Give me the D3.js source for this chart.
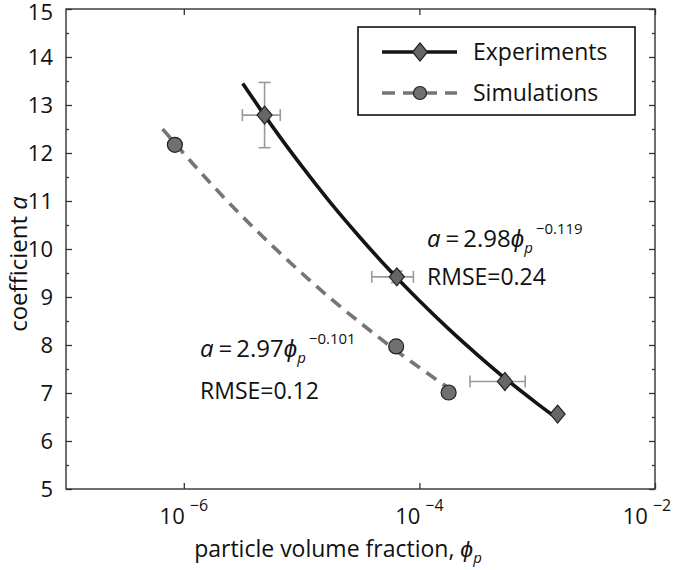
<!DOCTYPE html>
<html>
<head>
<meta charset="utf-8">
<script src="https://cdn.jsdelivr.net/npm/d3@7"></script>
<style>
  html, body { margin: 0; padding: 0; background: #fff; }
  svg { display: block; font-family: "Open Sans", sans-serif; }
</style>
</head>
<body>
<svg id="chart" width="675" height="570"></svg>
<script>
// ---------------- data ----------------
const xTicks = [1e-6, 1e-4, 1e-2];
const xTickExp = ["\u22126", "\u22124", "\u22122"];
const yTicks = [5, 6, 7, 8, 9, 10, 11, 12, 13, 14, 15];
const yMinorTicks = [5.5, 6.5, 7.5, 8.5, 9.5, 10.5, 11.5, 12.5, 13.5, 14.5];

// Experiments (diamonds)
const expPhi   = [4.85e-6, 6.43e-5, 5.32e-4, 1.49e-3];
const expA     = [12.79, 9.42, 7.24, 6.56];
const expAErr  = [0.68, 0.12, 0, 0];
const expPhiLo = [3.14e-6, 3.94e-5, 2.69e-4, null];
const expPhiHi = [6.59e-6, 8.89e-5, 7.91e-4, null];

// Simulations (circles)
const simPhi = [8.4e-7, 6.35e-5, 1.77e-4];
const simA   = [12.17, 7.97, 7.01];

// fitted curves (log10 phi, a)
const expFitLogPhi = [-5.50, -5.25, -5.0, -4.75, -4.5, -4.25, -4.0, -3.75, -3.5, -3.25, -3.0, -2.83];
const expFitA      = [13.45, 12.56, 11.73, 10.95, 10.23, 9.55, 8.92, 8.33, 7.78, 7.26, 6.78, 6.47];
const simFitLogPhi = [-6.18, -6.0, -5.75, -5.5, -5.25, -5.0, -4.75, -4.5, -4.25, -4.0, -3.75];
const simFitA      = [12.50, 11.99, 11.31, 10.67, 10.07, 9.50, 8.96, 8.46, 7.98, 7.53, 7.10];

const seriesNames = ["Experiments", "Simulations"];

// ---------------- layout ----------------
const svg = d3.select("#chart");
const L = 66, R = 655, T = 9, B = 489;
const x = d3.scaleLog().domain([1e-7, 1e-2]).range([L, R]);
const y = d3.scaleLinear().domain([5, 15]).range([B, T]);

const axisColor = "#333";
const textColor = "#111";

// axes
const gL = svg.append("g").attr("transform", `translate(${L},0)`)
  .call(d3.axisLeft(y).tickValues(yTicks).tickSize(-6).tickPadding(13).tickFormat(d3.format("d")));
const gLm = svg.append("g").attr("transform", `translate(${L},0)`)
  .call(d3.axisLeft(y).tickValues(yMinorTicks).tickSize(-3).tickFormat(""));
const gR = svg.append("g").attr("transform", `translate(${R},0)`)
  .call(d3.axisRight(y).tickValues(yTicks).tickSize(-6).tickFormat(""));
const gRm = svg.append("g").attr("transform", `translate(${R},0)`)
  .call(d3.axisRight(y).tickValues(yMinorTicks).tickSize(-3).tickFormat(""));
const gB = svg.append("g").attr("transform", `translate(0,${B})`)
  .call(d3.axisBottom(x).tickValues(xTicks).tickSize(-6).tickFormat(""));
const gT = svg.append("g").attr("transform", `translate(0,${T})`)
  .call(d3.axisTop(x).tickValues(xTicks).tickSize(-6).tickFormat(""));

[gL, gLm, gR, gRm, gB, gT].forEach(g => {
  g.select(".domain").remove();
  g.selectAll(".tick line").attr("stroke", axisColor).attr("stroke-width", 1.3);
  g.selectAll(".tick text").attr("fill", textColor).attr("font-size", 22)
    .attr("font-family", "'Open Sans', sans-serif");
});
// keep the top label inside the picture
gL.selectAll(".tick text").filter(d => d === 15).attr("dy", "0.36em").attr("y", 3);

svg.append("rect").attr("x", L).attr("y", T).attr("width", R - L).attr("height", B - T)
  .attr("fill", "none").attr("stroke", axisColor).attr("stroke-width", 1.4);

// x tick labels 10^n
const xl = svg.append("g");
xTicks.forEach((t, i) => {
  const last = i === xTicks.length - 1;
  const tx = xl.append("text").attr("x", last ? x(t) - 8 : x(t)).attr("y", 524)
    .attr("text-anchor", "middle").attr("font-size", 22).attr("fill", textColor);
  tx.append("tspan").text("10");
  tx.append("tspan").attr("dx", 5).attr("dy", -13).attr("font-size", 16).text(xTickExp[i]);
});

// axis titles
const xt = svg.append("text").attr("x", 338).attr("y", 557).attr("text-anchor", "middle")
  .attr("font-size", 23).attr("fill", textColor);
xt.append("tspan").text("particle volume fraction, ");
xt.append("tspan").attr("font-style", "italic").text("\u03d5");
xt.append("tspan").attr("font-style", "italic").attr("font-size", 15).attr("dy", 6).text("p");

const yt = svg.append("text").attr("transform", "translate(27,264) rotate(-90)")
  .attr("text-anchor", "middle").attr("font-size", 24).attr("fill", textColor);
yt.append("tspan").text("coefficient ");
yt.append("tspan").attr("font-style", "italic").text("a");

// fit lines
const fitLine = d3.line().x(d => x(Math.pow(10, d[0]))).y(d => y(d[1])).curve(d3.curveMonotoneX);
svg.append("path").datum(simFitLogPhi.map((v, i) => [v, simFitA[i]]))
  .attr("d", fitLine).attr("fill", "none").attr("stroke", "#757575")
  .attr("stroke-width", 3.6).attr("stroke-dasharray", "12,8");

// error bars
const eb = svg.append("g").attr("stroke", "#9a9a9a").attr("stroke-width", 1.6).attr("fill", "none");
expPhi.forEach((p, i) => {
  const cx = x(p), cy = y(expA[i]);
  if (expAErr[i] > 0) {
    const y0 = y(expA[i] - expAErr[i]), y1 = y(expA[i] + expAErr[i]);
    eb.append("line").attr("x1", cx).attr("x2", cx).attr("y1", y0).attr("y2", y1);
    eb.append("line").attr("x1", cx - 6).attr("x2", cx + 6).attr("y1", y0).attr("y2", y0);
    eb.append("line").attr("x1", cx - 6).attr("x2", cx + 6).attr("y1", y1).attr("y2", y1);
  }
  if (expPhiLo[i] !== null) {
    const x0 = x(expPhiLo[i]), x1 = x(expPhiHi[i]);
    eb.append("line").attr("x1", x0).attr("x2", x1).attr("y1", cy).attr("y2", cy);
    eb.append("line").attr("x1", x0).attr("x2", x0).attr("y1", cy - 6).attr("y2", cy + 6);
    eb.append("line").attr("x1", x1).attr("x2", x1).attr("y1", cy - 6).attr("y2", cy + 6);
  }
});

svg.append("path").datum(expFitLogPhi.map((v, i) => [v, expFitA[i]]))
  .attr("d", fitLine).attr("fill", "none").attr("stroke", "#141414")
  .attr("stroke-width", 3.6);

// markers
const diamond = "M0,-9L7.5,0L0,9L-7.5,0Z";
svg.append("g").selectAll("path").data(expPhi).join("path")
  .attr("d", diamond)
  .attr("transform", (d, i) => `translate(${x(d)},${y(expA[i])})`)
  .attr("fill", "#666").attr("stroke", "#222").attr("stroke-width", 1.2);

svg.append("g").selectAll("circle").data(simPhi).join("circle")
  .attr("cx", d => x(d)).attr("cy", (d, i) => y(simA[i])).attr("r", 7.5)
  .attr("fill", "#707070").attr("stroke", "#222").attr("stroke-width", 1.2);

// annotations
function formula(x0, y0, coef, expo) {
  const t = svg.append("text").attr("x", x0).attr("y", y0).attr("font-size", 24).attr("fill", textColor);
  t.append("tspan").attr("font-style", "italic").text("a");
  t.append("tspan").attr("dx", 5).text("=");
  t.append("tspan").attr("dx", 4).text(coef);
  t.append("tspan").attr("font-style", "italic").text("\u03d5");
  t.append("tspan").attr("font-style", "italic").attr("font-size", 15).attr("dy", 6).text("p");
  t.append("tspan").attr("font-size", 15).attr("dx", 3).attr("dy", -19).text(expo);
}
formula(427, 247, "2.98", "\u22120.119");
svg.append("text").attr("x", 427).attr("y", 285).attr("font-size", 23).attr("fill", textColor).text("RMSE=0.24");
formula(200, 357, "2.97", "\u22120.101");
svg.append("text").attr("x", 200).attr("y", 399).attr("font-size", 23).attr("fill", textColor).text("RMSE=0.12");

// legend
const lg = svg.append("g");
lg.append("rect").attr("x", 358).attr("y", 27).attr("width", 277).attr("height", 88)
  .attr("fill", "#fff").attr("stroke", "#111").attr("stroke-width", 1.6);
lg.append("line").attr("x1", 382).attr("x2", 457).attr("y1", 52).attr("y2", 52)
  .attr("stroke", "#141414").attr("stroke-width", 3.6);
lg.append("path").attr("d", diamond).attr("transform", "translate(420,52)")
  .attr("fill", "#666").attr("stroke", "#222").attr("stroke-width", 1.2);
lg.append("line").attr("x1", 382).attr("x2", 457).attr("y1", 93).attr("y2", 93)
  .attr("stroke", "#757575").attr("stroke-width", 3.6).attr("stroke-dasharray", "13,8");
lg.append("circle").attr("cx", 420).attr("cy", 93).attr("r", 6.5)
  .attr("fill", "#707070").attr("stroke", "#222").attr("stroke-width", 1.2);
lg.selectAll("text.lab").data(seriesNames).join("text").attr("class", "lab")
  .attr("x", 473).attr("y", (d, i) => i === 0 ? 60 : 101)
  .attr("font-size", 23).attr("fill", textColor).text(d => d);
</script>
</body>
</html>
